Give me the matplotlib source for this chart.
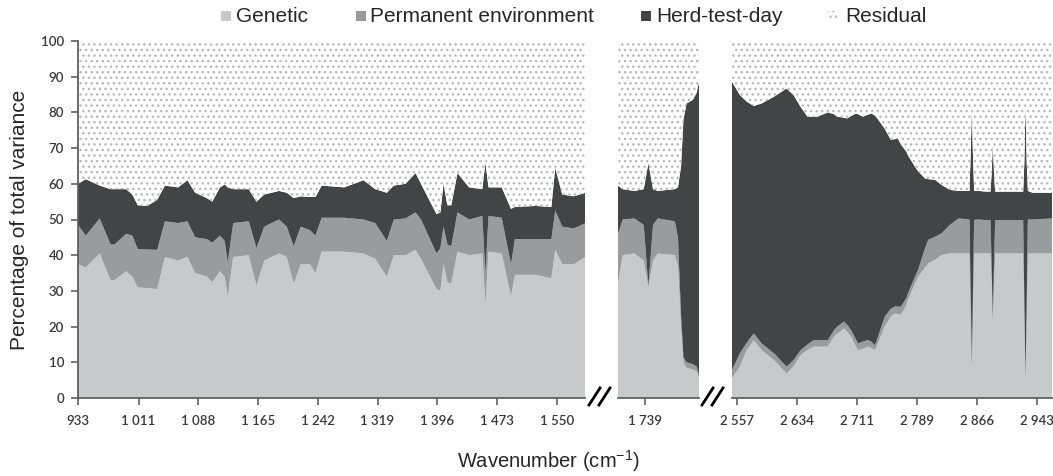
import numpy as np
import matplotlib
matplotlib.use("Agg")
import matplotlib.pyplot as plt
from matplotlib.patches import Rectangle
from matplotlib.lines import Line2D

# ---------------- data (percentage of total variance) ----------------
wn_1 = [933, 943, 961, 975, 980, 995, 1003, 1010, 1022, 1035, 1045, 1062, 1074, 1084,
        1099, 1106, 1116, 1122, 1126, 1133, 1153, 1163, 1173, 1192, 1202, 1211, 1220,
        1232, 1239, 1247, 1276, 1301, 1316, 1331, 1340, 1355, 1368, 1375, 1395, 1400,
        1404, 1409, 1414, 1422, 1437, 1454, 1458, 1462, 1479, 1491, 1496, 1523, 1543,
        1548, 1557, 1572, 1587]
genetic_1 = [37.5, 36.5, 40.5, 33, 33, 35.5, 34, 31, 30.8, 30.5, 39.5, 38.5, 39.5, 35,
             34, 32.5, 35.5, 34, 28.5, 39.5, 40, 31.5, 38.5, 40.5, 39.5, 32, 37.5,
             37.5, 35, 41, 41, 40.5, 39, 34, 40, 40, 41.5, 39, 30.5, 30,
             37.5, 32.5, 32, 41, 40, 40.5, 26, 41, 40.5, 28.5, 34.5, 34.5, 33.5,
             41.5, 37.5, 37.5, 39.5]
perm_env_1 = [11, 9, 9.8, 10, 10, 10.5, 11.5, 10.7, 10.8, 11, 10, 10.5, 10, 10,
              10.5, 11, 10, 10, 9.5, 9.5, 9.5, 10.5, 9.5, 9.5, 8.5, 10.5, 10.5,
              9.5, 10.5, 9.5, 9.5, 9.5, 10, 10, 10, 10.3, 10.5, 11, 10, 12,
              10.5, 10.5, 10.5, 11, 10, 10.5, 9, 10, 10, 9, 10, 10, 11,
              11, 10.5, 10, 9.5]
herd_1 = [11.5, 15.8, 9.2, 15.5, 15.5, 12.5, 11.5, 12.3, 12.2, 14, 10, 10, 11.5, 12.5,
          11.5, 11.5, 13.5, 15.8, 21, 9.5, 9, 13, 9, 8, 9.5, 13.5, 8.5,
          9.3, 10.8, 9, 8.5, 11, 9.5, 13.5, 9.5, 9.7, 11, 10, 11, 10,
          12, 11, 11.5, 11, 9, 7.5, 31, 8, 8.5, 15.5, 9, 9.3, 9,
          12, 9, 9, 8.5]

wn_2 = [1704, 1710, 1725, 1737, 1743, 1749, 1755, 1777, 1781, 1785, 1788, 1792, 1800,
        1805, 1808]
genetic_2 = [32, 40, 40.5, 38.5, 31, 38.5, 40.5, 40, 37, 20, 10, 8.5, 8, 7.5, 5.5]
perm_env_2 = [14, 10, 9.8, 10, 0.5, 10, 9.8, 9.5, 8, 3, 1.5, 1.5, 1.5, 1.3, 1]
herd_2 = [13.5, 8.5, 7.7, 10, 34.3, 10, 7.7, 9, 14, 42, 66.5, 72.5, 74, 76.7, 82.1]

wn_3 = [2551, 2561, 2570, 2579, 2589, 2605, 2621, 2630, 2639, 2648, 2656, 2661, 2674,
        2682, 2686, 2695, 2699, 2704, 2710, 2713, 2719, 2725, 2730, 2734, 2736, 2747,
        2755, 2760, 2764, 2768, 2775, 2777, 2786, 2790, 2799, 2803, 2812, 2820, 2831,
        2842, 2856, 2857.5, 2859, 2860.5, 2862, 2868, 2878, 2883, 2884.5, 2886, 2887.5,
        2889, 2893, 2919, 2925, 2926.5, 2928, 2929.5, 2931, 2937, 2962]
genetic_3 = [5.5, 8.8, 13.5, 16.2, 13.4, 10.6, 6.9, 8.8, 12, 13.5, 14.4, 14.4, 14.4,
             17.2, 18, 19.5, 18.5, 17.2, 14.5, 13.4, 13.8, 14.4, 14, 13.4, 14, 20,
             22.8, 23.7, 23.5, 23.3, 26, 27.5, 32, 34, 36.5, 37.7, 38.7, 40, 40.5,
             40.5, 40.5, 25, 8.8, 25, 40.5, 40.5, 40.5, 40.5, 32, 21.8, 32,
             40.5, 40.5, 40.5, 40.5, 22, 5.5, 22, 40.5, 40.5, 40.5]
perm_env_3 = [2.3, 3.7, 2, 1.9, 1.9, 1.9, 1.9, 1.8, 1.4, 1.5, 1.8, 1.8, 1.8,
              1.8, 2, 1.9, 2, 1.8, 2, 1.9, 2, 1.8, 1.8, 1.4, 1.5, 2.7,
              2.2, 1.9, 2.1, 2.3, 2, 1.8, 2, 1.9, 5.5, 6.6, 6.5, 6.1, 8,
              9.8, 9.5, 5, 0, 5, 9.4, 9.5, 9.3, 9.3, 5, 0, 5,
              9.3, 9.3, 9.3, 9.3, 5, 0, 5, 9.5, 9.5, 9.8]
herd_3 = [80.8, 72.4, 67.5, 63.7, 67.2, 71.9, 77.9, 74.3, 68.2, 63.8, 62.6, 62.6, 63.8,
          60.5, 58.8, 57.1, 57.8, 60, 63.2, 64.2, 63, 63.1, 63.9, 64.4, 63.3, 52.8,
          47.3, 46.9, 47.1, 45.4, 41, 38.7, 30.8, 27.6, 19.5, 17, 15.9, 13.6, 9.8,
          7.7, 8, 38, 72.3, 38, 8.1, 8, 8, 8, 26, 49.6, 26,
          8, 8, 8, 8, 39, 76.7, 39, 8, 7.5, 7.2]

ticks_1 = [933, 1011, 1088, 1165, 1242, 1319, 1396, 1473, 1550]
ticklabels_1 = ["933", "1 011", "1 088", "1 165", "1 242", "1 319", "1 396", "1 473", "1 550"]
ticks_2 = [1739]
ticklabels_2 = ["1 739"]
ticks_3 = [2557, 2634, 2711, 2789, 2866, 2943]
ticklabels_3 = ["2 557", "2 634", "2 711", "2 789", "2 866", "2 943"]

series_names = ["Genetic", "Permanent environment", "Herd-test-day", "Residual"]

# ---------------- style ----------------
C_GEN = "#c8c9cb"
C_PE = "#9a9b9d"
C_HTD = "#434446"
C_DOT = "#b8b8b8"
SPINE = "#606060"
TXT = "#262626"
TICKTXT = "#383838"

plt.rcParams["hatch.linewidth"] = 1.0
plt.rcParams["hatch.color"] = C_DOT
plt.rcParams["mathtext.fontset"] = "custom"
plt.rcParams["mathtext.rm"] = "Liberation Sans"

W, H = 1053, 476
fig = plt.figure(figsize=(W / 100, H / 100), dpi=100)
fig.patch.set_facecolor("white")

y0 = (H - 398) / H
hgt = 357 / H
panels = [
    (78, 507.5, (933, 1587), wn_1, genetic_1, perm_env_1, herd_1, ticks_1, ticklabels_1),
    (618, 81, (1704, 1808), wn_2, genetic_2, perm_env_2, herd_2, ticks_2, ticklabels_2),
    (732, 320, (2551, 2962), wn_3, genetic_3, perm_env_3, herd_3, ticks_3, ticklabels_3),
]

for i, (px, pw, xlim, x, g, pe, htd, tk, tkl) in enumerate(panels):
    ax = fig.add_axes([px / W, y0, pw / W, hgt])
    x = np.asarray(x, float)
    g = np.asarray(g, float)
    pe = np.asarray(pe, float)
    htd = np.asarray(htd, float)
    ax.stackplot(x, g, pe, htd, colors=[C_GEN, C_PE, C_HTD], linewidth=0)
    top = g + pe + htd
    ax.fill_between(x, top, 100, facecolor="white", edgecolor=C_DOT,
                    hatch="...", linewidth=0)
    ax.set_xlim(*xlim)
    ax.set_ylim(0, 100)
    ax.set_facecolor("white")
    for s in ["top", "right"]:
        ax.spines[s].set_visible(False)
    ax.spines["bottom"].set_color(SPINE)
    ax.spines["bottom"].set_linewidth(1.3)
    ax.set_xticks(tk)
    ax.set_xticklabels(tkl)
    ax.tick_params(axis="x", direction="out", length=5, width=1.2, color=SPINE,
                   labelsize=9.5, labelcolor=TICKTXT, pad=7)
    for lab in ax.get_xticklabels():
        lab.set_family("Lato")
        lab.set_fontweight("semibold")
    if i == 0:
        ax.spines["left"].set_color(SPINE)
        ax.spines["left"].set_linewidth(1.3)
        ax.set_yticks(range(0, 101, 10))
        ax.tick_params(axis="y", direction="out", length=5, width=1.2, color=SPINE,
                       labelsize=9.5, labelcolor=TICKTXT, pad=5)
        for lab in ax.get_yticklabels():
            lab.set_family("Lato")
            lab.set_fontweight("semibold")
    else:
        ax.spines["left"].set_visible(False)
        ax.set_yticks([])

# ---------------- axis break marks ----------------
for xa in (589, 702):
    for off in (0, 10):
        fig.add_artist(Line2D([(xa + off) / W, (xa + off + 11) / W],
                              [(H - 405) / H, (H - 388) / H],
                              transform=fig.transFigure, color="black", lw=2))

# ---------------- labels ----------------
fig.text(20 / W, 1 - 219.5 / H, "Percentage of total variance", rotation=90,
         ha="center", va="center", fontsize=15, family="Liberation Sans", color=TXT)
fig.text(548 / W, 1 - 461 / H, r"Wavenumber (cm$^{\mathregular{-1}}$)",
         ha="center", va="center", fontsize=14.5, family="Liberation Sans", color=TXT)

# ---------------- legend (manual, top) ----------------
leg_sq = [221, 356, 641, 828]
leg_tx = [236, 370.5, 656, 845]
leg_col = [C_GEN, C_PE, C_HTD, "white"]
for name, sx, tx, col in zip(series_names, leg_sq, leg_tx, leg_col):
    if col == "white":
        r = Rectangle((sx / W, (H - 21) / H), 10 / W, 10 / H, transform=fig.transFigure,
                      facecolor="white", edgecolor=C_DOT, hatch="...", linewidth=0)
    else:
        r = Rectangle((sx / W, (H - 21) / H), 10 / W, 10 / H, transform=fig.transFigure,
                      facecolor=col, edgecolor="none")
    fig.add_artist(r)
    fig.text(tx / W, 1 - 16 / H, name, ha="left", va="center", fontsize=15,
             family="Liberation Sans", color=TXT)

fig.savefig("out.png", dpi=100, facecolor="white")
